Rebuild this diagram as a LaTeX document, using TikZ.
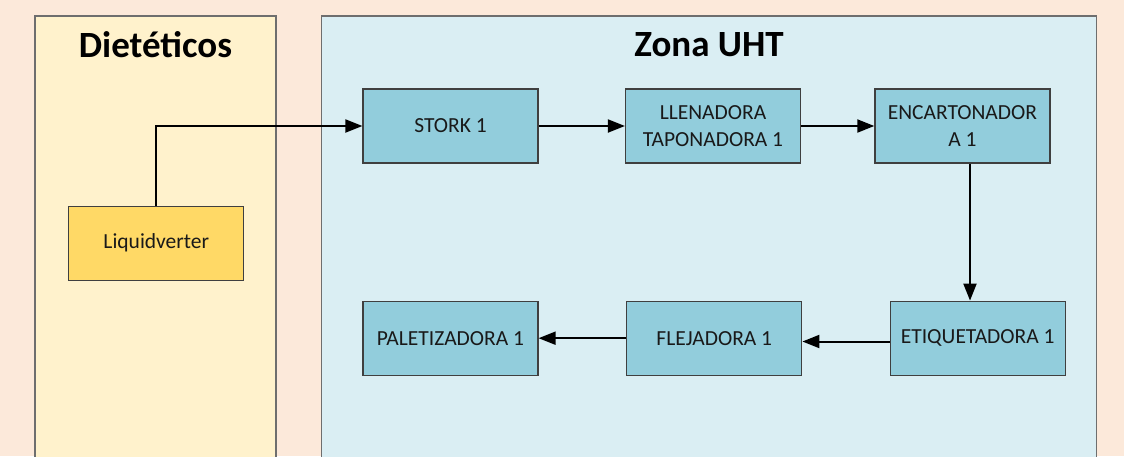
\documentclass[tikz,border=0pt]{standalone}
\usepackage{fontspec}
\setmainfont{Carlito}
\usetikzlibrary{arrows.meta}
\definecolor{bgc}{HTML}{FCE9DA}
\definecolor{dietc}{HTML}{FFF2CC}
\definecolor{uhtc}{HTML}{DAEEF3}
\definecolor{boxc}{HTML}{92CDDC}
\definecolor{liqc}{HTML}{FFD966}
\definecolor{panelline}{HTML}{6E6E6E}
\definecolor{boxline}{HTML}{3F3F3F}
\tikzset{
  panel/.style={draw=panelline, line width=1.4pt},
  machine/.style={draw=boxline, line width=1.2pt, fill=boxc, minimum width=175pt, minimum height=74pt,
    inner sep=0pt, align=center, font=\fontsize{21.5}{27}\selectfont, text=black!90},
  title/.style={font=\fontsize{37}{42}\selectfont\bfseries, text=black, inner sep=0pt},
  flow/.style={line width=2pt, -{Triangle[length=17pt,width=13pt]}}
}
\begin{document}
\begin{tikzpicture}[x=1pt,y=-1pt]
\useasboundingbox (0,0) rectangle (1124,456);
\clip (0,0) rectangle (1124,456);
\fill[bgc] (0,0) rectangle (1124,456);
\draw[panel, fill=dietc] (35,16) rectangle (276,480);
\draw[panel, fill=uhtc] (321.5,16) rectangle (1096.5,480);
\node[title] (tdiet) at (155.5,45) {Dietéticos};
\node[title] (tuht) at (709,45) {Zona UHT};
\node[machine, fill=liqc] (liq) at (156.3,243.2) {Liquidverter};
\node[machine] (stork) at (450.5,126) {STORK 1};
\node[machine] (llen) at (713,126) {LLENADORA\\TAPONADORA 1};
\node[machine] (encar) at (962.4,126) {ENCARTONADOR\\A 1};
\node[machine] (etiq) at (977.7,338.2) {ETIQUETADORA 1};
\node[machine] (flej) at (714.3,338.2) {FLEJADORA 1};
\node[machine] (palet) at (450.5,338.2) {PALETIZADORA 1};
\draw[flow] (liq.north) |- (stork.west);
\draw[flow] (stork.east) -- (llen.west);
\draw[flow] (llen.east) -- (encar.west);
\draw[flow] (encar.south -| 970,0) -- (etiq.north -| 970,0);
\draw[flow] (etiq.west |- 0,341.5) -- (flej.east |- 0,341.5);
\draw[flow] (flej.west) -- (palet.east);
\end{tikzpicture}
\end{document}
